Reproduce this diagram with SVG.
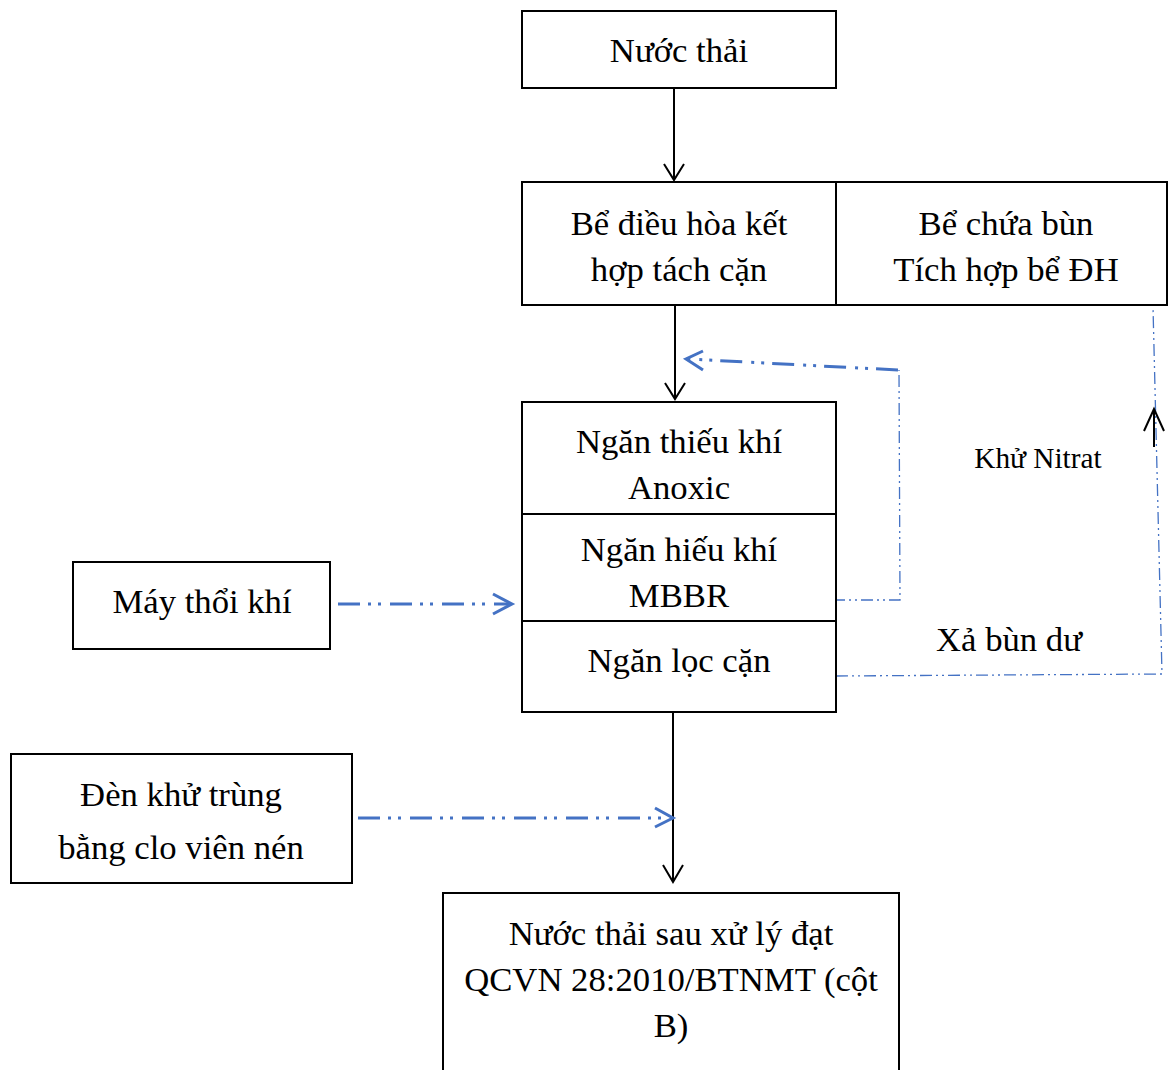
<svg xmlns="http://www.w3.org/2000/svg" width="1169" height="1070" viewBox="0 0 1169 1070">
<style>
.box{fill:#fff;stroke:#000;stroke-width:2}
.t{font-family:"Liberation Serif","Times New Roman",serif;font-size:34.7px;fill:#000;text-anchor:middle}
.s{font-size:29.3px}
.blk{stroke:#000;stroke-width:2;fill:none}
.bth{stroke:#4472C4;stroke-width:3;fill:none;stroke-dasharray:22 8 3 7 3 9}
.btn{stroke:#4472C4;stroke-width:1.3;fill:none;stroke-dasharray:12 4 2 4 2 4}
.bhd{stroke:#4472C4;stroke-width:3;fill:none}
</style>
<rect width="1169" height="1070" fill="#fff"/>
<g id="connectors">
<line class="blk" x1="674" y1="88" x2="674" y2="180"/>
<polyline class="blk" points="664,164 674,180 684,164"/>
<line class="blk" x1="675" y1="305" x2="675" y2="399"/>
<polyline class="blk" points="665,383 675,399 685,383"/>
<line class="blk" x1="673" y1="712" x2="673" y2="882"/>
<polyline class="blk" points="663,865 673,882 683,865"/>
<line class="bth" x1="338" y1="604" x2="510" y2="604"/>
<polyline class="bhd" points="493,594 512,604 493,614"/>
<line class="bth" x1="358" y1="818" x2="671" y2="818"/>
<polyline class="bhd" points="655,808 673,818 655,827"/>
<polyline class="btn" points="833,600 900,600 899,370"/>
<line class="bth" x1="898" y1="370" x2="688" y2="359"/>
<polyline class="bhd" points="703,351 686,359 703,370"/>
<polyline class="btn" points="836,676 1162,674 1153,307"/>
<line class="blk" x1="1154" y1="447" x2="1154" y2="409"/>
<polyline class="blk" points="1144,431 1154,409 1164,431"/>
</g>
<g id="n1"><rect class="box" x="522" y="11" width="314" height="77"/><text class="t" x="679" y="62">Nước thải</text></g>
<g id="n2"><rect class="box" x="522" y="182" width="314" height="123"/><text class="t" x="679" y="235">Bể điều hòa kết</text><text class="t" x="679" y="281">hợp tách cặn</text></g>
<g id="n3"><rect class="box" x="836" y="182" width="331" height="123"/><text class="t" x="1006" y="235">Bể chứa bùn</text><text class="t" x="1006" y="281">Tích hợp bể ĐH</text></g>
<g id="n4"><rect class="box" x="522" y="402" width="314" height="112"/><text class="t" x="679" y="453">Ngăn thiếu khí</text><text class="t" x="679" y="499">Anoxic</text></g>
<g id="n5"><rect class="box" x="522" y="514" width="314" height="107"/><text class="t" x="679" y="561">Ngăn hiếu khí</text><text class="t" x="679" y="607">MBBR</text></g>
<g id="n6"><rect class="box" x="522" y="621" width="314" height="91"/><text class="t" x="679" y="672">Ngăn lọc cặn</text></g>
<g id="n7"><rect class="box" x="73" y="562" width="257" height="87"/><text class="t" x="202" y="613">Máy thổi khí</text></g>
<g id="n8"><rect class="box" x="11" y="754" width="341" height="129"/><text class="t" x="181" y="806">Đèn khử trùng</text><text class="t" x="181" y="859">bằng clo viên nén</text></g>
<g id="n9"><rect class="box" x="443" y="893" width="456" height="200"/><text class="t" x="671" y="945">Nước thải sau xử lý đạt</text><text class="t" x="671" y="991">QCVN 28:2010/BTNMT (cột</text><text class="t" x="671" y="1037">B)</text></g>
<g id="labels"><text class="t s" x="1038" y="468">Khử Nitrat</text><text class="t" x="1009" y="651">Xả bùn dư</text></g>
</svg>
